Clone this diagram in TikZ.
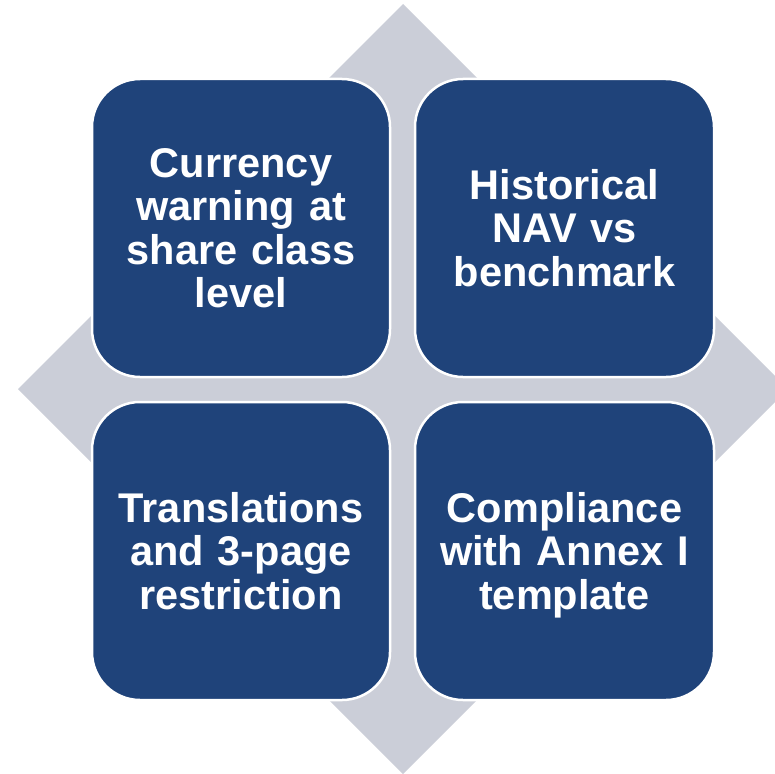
\documentclass[tikz,border=0pt]{standalone}
\usepackage{fontspec}
\setmainfont{Liberation Sans}
\definecolor{boxblue}{HTML}{1F437A}
\definecolor{diagray}{HTML}{CBCED8}
\begin{document}
\begin{tikzpicture}[x=1pt,y=-1pt,
  tile/.style={fill=boxblue,draw=white,line width=2.5pt,rounded corners=48pt},
  tiletext/.style={text=white,font=\fontsize{41.5}{43.5}\selectfont\bfseries,align=center,text width=295pt}]
\useasboundingbox (0,0) rectangle (775,773);
\begin{scope}
\clip (0,0) rectangle (775,773);
\fill[diagray] (403,4) -- (788,389) -- (403,774) -- (18,389) -- cycle;
\end{scope}
\draw[tile] (92,79) rectangle (390,377);
\draw[tile] (415,79) rectangle (714,377);
\draw[tile] (92,402) rectangle (390,700);
\draw[tile] (415,402) rectangle (714,700);
\node[tiletext] (tl) at (241,228) {Currency\\warning at\\share class\\level};
\node[tiletext] (tr) at (564.5,228) {Historical\\NAV vs\\benchmark};
\node[tiletext] (bl) at (241,551) {Translations\\and 3-page\\restriction};
\node[tiletext] (br) at (564.5,555) {Compliance\\with Annex I\\template};
\end{tikzpicture}
\end{document}
